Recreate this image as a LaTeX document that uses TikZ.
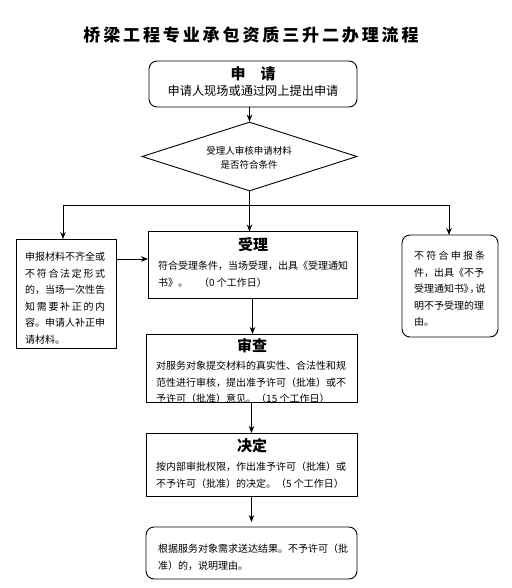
\documentclass[tikz,border=0pt]{standalone}
\usepackage{fontspec}
\setmainfont{Noto Sans CJK SC}
\usetikzlibrary{arrows.meta,shapes.geometric}
\begin{document}
\begin{tikzpicture}[x=1pt,y=-1pt,
  frame/.style={draw,line width=0.9pt,inner sep=0pt,outer sep=0pt,anchor=north west},
  rframe/.style={frame,rounded corners=8pt},
  arr/.style={draw,line width=0.8pt,-{Stealth[length=7pt,width=5.5pt]}},
  ln/.style={draw,line width=0.8pt},
  body/.style={font=\fontsize{10}{16.5}\selectfont,align=left,anchor=north west,inner sep=0pt},
  head/.style={font=\fontsize{15}{16}\selectfont\bfseries,anchor=center,inner sep=0pt}]
\useasboundingbox (0,0) rectangle (511,588);

% title
\node[font=\fontsize{17}{18}\selectfont\bfseries\addfontfeature{LetterSpace=17},inner sep=0pt] (title) at (251,35) {桥梁工程专业承包资质三升二办理流程};

% frames
\node[rframe,minimum width=208pt,minimum height=46pt] (apply) at (149,61) {};
\node[draw,diamond,line width=0.9pt,inner sep=0pt,aspect=3.1,minimum width=215pt,minimum height=69pt] (dia) at (249.5,156.5) {};
\node[frame,minimum width=100pt,minimum height=109pt] (left) at (16,239) {};
\node[frame,minimum width=209pt,minimum height=67pt] (shou) at (148,231.5) {};
\node[rframe,minimum width=96pt,minimum height=102pt] (right) at (402,235) {};
\node[frame,minimum width=211pt,minimum height=68pt] (shen) at (146,334) {};
\node[frame,minimum width=211pt,minimum height=63pt] (jue) at (146,433) {};
\node[rframe,minimum width=211pt,minimum height=52pt] (res) at (146,527) {};

% texts
\node[font=\fontsize{15}{16}\selectfont\bfseries,inner sep=0pt] (applyH) at (253,74) {申\hspace{15pt}请};
\node[font=\fontsize{12.2}{14}\selectfont,inner sep=0pt] (applyT) at (253,91) {申请人现场或通过网上提出申请};

\node[font=\fontsize{9.5}{14}\selectfont,align=center,inner sep=0pt] (diaT) at (249,158) {受理人审核申请材料\\是否符合条件};

\node[body] (leftT) at (25,252) {%
申报材料不齐全或\\
\makebox[80pt][s]{不\hfill 符\hfill 合\hfill 法\hfill 定\hfill 形\hfill 式}\\
的，当场一次性告\\
\makebox[80pt][s]{知\hfill 需\hfill 要\hfill 补\hfill 正\hfill 的\hfill 内}\\
容。申请人补正申\\
请材料。};

\node[head] (shouH) at (253,245) {受理};
\node[body] (shouT) at (158,261) {符合受理条件，当场受理，出具《受理通知\\
书》。\hspace{11pt}（0 个工作日）};

\node[body] (rightT) at (414,251) {%
\makebox[71pt][s]{不\hfill 符\hfill 合\hfill 申\hfill 报\hfill 条}\\
件，出具《不予\\
受理通知书\kern-0.5pt》\kern-4pt，\kern-4pt说\\
明不予受理的理\\
由。};

\node[head] (shenH) at (252,346) {审查};
\node[body] (shenT) at (156,361) {对服务对象提交材料的真实性、合法性和规\\
范性进行审核，提出准予许可（批准）或不\\
予许可（批准）意见。（15 个工作日）};

\node[head] (jueH) at (252,446) {决定};
\node[body] (jueT) at (156,462) {按内部审批权限，作出准予许可（批准）或\\
不予许可（批准）的决定。（5 个工作日）};

\node[body] (resT) at (158,544) {根据服务对象需求送达结果。不予许可（批\\
准）的，说明理由。};

% connectors
\coordinate (spL) at (63,205);
\coordinate (spR) at (449,205);
\coordinate (lk) at (0,259);
\draw[arr] (dia.north |- apply.south) -- (dia.north);
\draw[arr] (dia.south) -- (dia.south |- shou.north);
\draw[ln] (spL) -- (spR);
\draw[arr] (spL) -- (spL |- left.north);
\draw[arr] (spR) -- (spR |- right.north);
\draw[arr] (left.east |- lk) -- (shou.west |- lk);
\draw[arr] (shou.south) -- (shou.south |- shen.north);
\draw[arr] (shen.south) -- (shen.south |- jue.north);
\draw[arr] (jue.south) -- ([yshift=5pt]jue.south |- res.north);
\end{tikzpicture}
\end{document}
